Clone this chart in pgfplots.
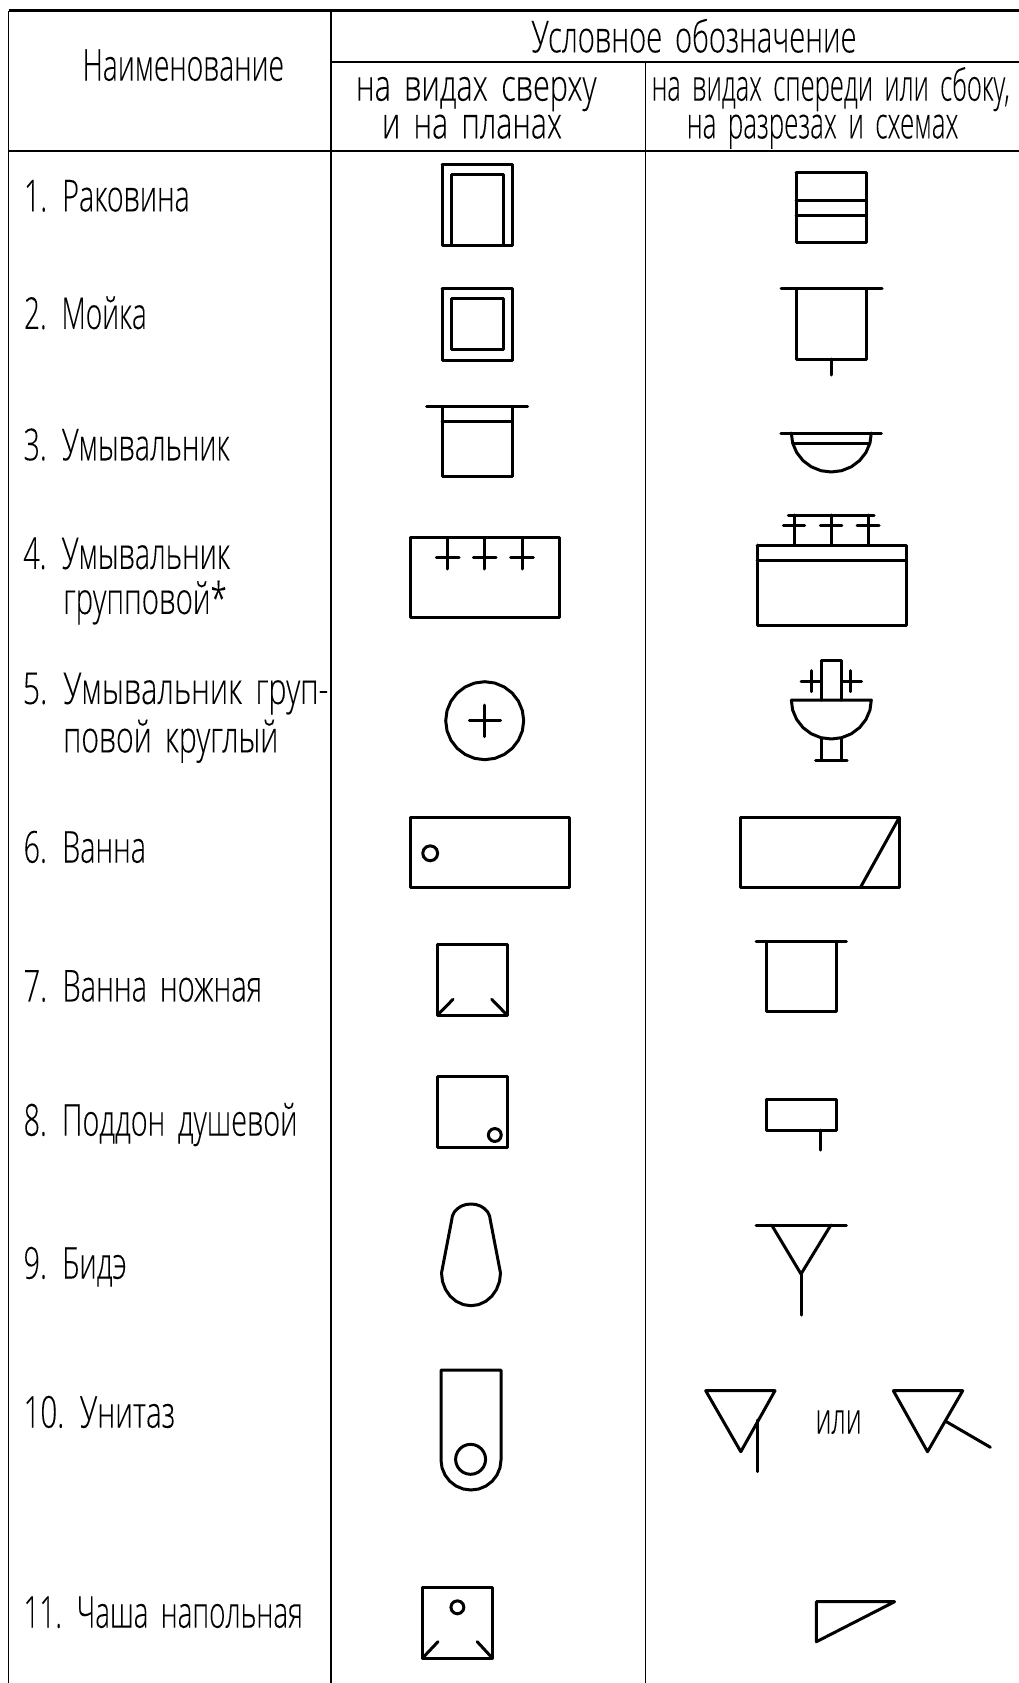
\documentclass[border=0pt]{standalone}
\usepackage{pgfplots}
\usepackage{graphicx}
\usepackage{fontspec}
\setmainfont[WordSpace=1.7,FakeBold=0.12]{Open Sans Light}
\pgfplotsset{compat=1.18}
\newdimen\px \px=0.75pt
\newcommand\T[4]{\node[anchor=base west,inner sep=0pt,outer sep=0pt,yshift=-0.5pt,font=\fontsize{33pt}{38pt}\selectfont] at (axis cs:#1,#2) {\resizebox{#3\px}{\height}{#4}};}
\newcommand\R[4]{\addplot[sym] coordinates {(#1,#2)(#3,#2)(#3,#4)(#1,#4)(#1,#2)};}
\newcommand\Ln[4]{\addplot[sym] coordinates {(#1,#2)(#3,#4)};}
\begin{document}
\begin{tikzpicture}
\path[use as bounding box] (0,0) rectangle (764.25pt,1262.25pt);
\begin{axis}[
  at={(0,0)}, anchor=south west,
  scale only axis, width=764.25pt, height=1262.25pt,
  xmin=0, xmax=1019, ymin=0, ymax=1683, y dir=reverse,
  hide axis,
  sym/.style={black,line width=2.25pt,line cap=round,line join=round,no markers,forget plot},
  tab/.style={black,line width=1.2pt,no markers,forget plot},
  tabk/.style={black,line width=2.2pt,no markers,forget plot},
]
% table rules
\addplot[tabk] coordinates {(8.5,10.7)(1019,10.7)};
\addplot[tab] coordinates {(8.5,10.7)(8.5,1683)};
\addplot[tab] coordinates {(331,10.7)(331,1683)};
\addplot[tab] coordinates {(645.5,62)(645.5,1683)};
\addplot[tab] coordinates {(331,62)(1019,62)};
\addplot[tabk] coordinates {(8.5,151)(1019,151)};
% header text
\T{531.5}{51.7}{325}{Условное обозначение}
\T{82.5}{80}{201.5}{Наименование}
\T{356}{100}{240.5}{на видах сверху}
\T{382}{137.7}{180}{и на планах}
\T{651.7}{100}{358}{на видах спереди или сбоку,}
\T{686.8}{137.7}{271.6}{на разрезах и схемах}
% names
\T{24}{210.7}{165.7}{1. Раковина}
\T{24}{328.3}{122.8}{2. Мойка}
\T{23.6}{459.6}{206}{3. Умывальник}
\T{23.3}{568.3}{206.7}{4. Умывальник}
\T{63.3}{613.3}{163.4}{групповой*}
\T{22.7}{703.3}{305.6}{5. Умывальник груп-}
\T{63.3}{751.7}{215}{повой круглый}
\T{23.6}{862}{122.4}{6. Ванна}
\T{23.6}{1000.8}{238.4}{7. Ванна ножная}
\T{23.6}{1135}{273.8}{8. Поддон душевой}
\T{23.6}{1278}{103.1}{9. Бидэ}
\T{23.6}{1427}{151.4}{10. Унитаз}
\T{23.6}{1627}{279.2}{11. Чаша напольная}
\T{815.5}{1433}{46.1}{или}
% 1
\R{442}{165}{512}{246}
\R{451.5}{175}{503.5}{246}
\R{796}{172.7}{866}{243}
\Ln{796}{200.7}{866}{200.7}
\Ln{796}{216}{866}{216}
% 2
\R{442}{289}{512}{360}
\R{451.5}{299}{503.5}{349}
\Ln{781}{289}{882}{289}
\R{796}{289}{866}{359}
\Ln{831}{359}{831}{375}
% 3
\Ln{426.7}{406.7}{527.7}{406.7}
\R{442}{406.7}{512}{476.7}
\Ln{442}{421.7}{512}{421.7}
\Ln{780.8}{433}{881.4}{433}
\Ln{794}{443}{869}{443}
\addplot[sym] coordinates {(871.3,433)(869.94,443.1)(865.94,452.5)(859.58,460.6)(851.3,466.8)(841.66,470.7)(831.3,472)(820.94,470.7)(811.3,466.8)(803.02,460.6)(796.66,452.5)(792.66,443.1)(791.3,433)};
% 4
\R{410.4}{537.3}{559.8}{617.7}
\Ln{447.7}{537.3}{447.7}{569}
\Ln{484.7}{537.3}{484.7}{569}
\Ln{522}{537.3}{522}{569}
\Ln{436.3}{557.7}{459.1}{557.7}
\Ln{473.3}{557.7}{496.1}{557.7}
\Ln{510.6}{557.7}{533.4}{557.7}
\R{757}{545}{906.4}{625.7}
\Ln{757}{560.3}{906.4}{560.3}
\Ln{788.3}{515}{874}{515}
\Ln{794}{515}{794}{545}
\Ln{831}{515}{831}{545}
\Ln{868}{515}{868}{545}
\Ln{783.4}{525.7}{804.5}{525.7}
\Ln{820.3}{525.7}{841.9}{525.7}
\Ln{857.2}{525.7}{879.2}{525.7}
% 5
\addplot[sym] coordinates {(523.7,720.7)(522.37,730.79)(518.47,740.2)(512.28,748.28)(504.2,754.47)(494.79,758.37)(484.7,759.7)(474.61,758.37)(465.2,754.47)(457.12,748.28)(450.93,740.2)(447.03,730.79)(445.7,720.7)(447.03,710.61)(450.93,701.2)(457.12,693.12)(465.2,686.93)(474.61,683.03)(484.7,681.7)(494.79,683.03)(504.2,686.93)(512.28,693.12)(518.47,701.2)(522.37,710.61)(523.7,720.7)};
\Ln{469.3}{720.7}{500.5}{720.7}
\Ln{484.7}{705}{484.7}{736.7}
\addplot[sym] coordinates {(821.2,700)(821.2,660.7)(841.9,660.7)(841.9,700)};
\addplot[sym] coordinates {(791.3,700)(871.3,700)(869.94,710.1)(865.94,719.5)(859.58,727.6)(851.3,733.8)(841.66,737.7)(831.3,739)(820.94,737.7)(811.3,733.8)(803.02,727.6)(796.66,719.5)(792.66,710.1)(791.3,700)};
\Ln{821.2}{738}{821.2}{760.7}
\Ln{841.9}{738}{841.9}{760.7}
\Ln{815.5}{760.7}{847.1}{760.7}
\Ln{811}{670.7}{811}{691.7}
\Ln{801}{681}{821.2}{681}
\Ln{850.7}{670.7}{850.7}{691.7}
\Ln{841.9}{681}{861.6}{681}
% 6
\R{410.4}{817.3}{569.5}{887.7}
\addplot[sym] coordinates {(437.7,853.3)(436.7,857.05)(433.95,859.8)(430.2,860.8)(426.45,859.8)(423.7,857.05)(422.7,853.3)(423.7,849.55)(426.45,846.8)(430.2,845.8)(433.95,846.8)(436.7,849.55)(437.7,853.3)};
\R{740.8}{817.3}{899.4}{887.7}
\Ln{899.4}{817.3}{860.3}{887.7}
% 7
\R{437.6}{944.3}{507}{1015}
\Ln{437.6}{1015}{453}{999.3}
\Ln{507}{1015}{491.7}{999.3}
\Ln{756.2}{941.7}{846.3}{941.7}
\R{766.3}{941.7}{836.2}{1011}
% 8
\R{437.6}{1076.7}{507}{1147.7}
\addplot[sym] coordinates {(501.3,1135)(500.43,1138.25)(498.05,1140.63)(494.8,1141.5)(491.55,1140.63)(489.17,1138.25)(488.3,1135)(489.17,1131.75)(491.55,1129.37)(494.8,1128.5)(498.05,1129.37)(500.43,1131.75)(501.3,1135)};
\R{766.3}{1099.3}{836.2}{1130}
\Ln{820.8}{1130}{820.8}{1150}
% 9
\addplot[sym] coordinates {(451.7,1220)(452.4,1215.9)(454.3,1212)(457.4,1208.7)(461.4,1206.1)(466,1204.5)(471,1204)(476,1204.5)(480.6,1206.1)(484.6,1208.7)(487.7,1212)(489.6,1215.9)(490.3,1220)(500.5,1273)(499.5,1281.5)(496.5,1289.4)(491.9,1296.1)(485.8,1301.3)(478.6,1304.6)(471,1305.7)(463.4,1304.6)(456.2,1301.3)(450.1,1296.1)(445.5,1289.4)(442.5,1281.5)(441.5,1273)(451.7,1220)};
\Ln{756.2}{1225}{846.3}{1225}
\addplot[sym] coordinates {(771.6,1225)(801,1274)(830.9,1225)};
\Ln{801}{1274}{801}{1315}
% 10
\addplot[sym] coordinates {(441,1370)(501,1370)(501,1460)(499.98,1467.76)(496.98,1475)(492.21,1481.21)(486,1485.98)(478.76,1488.98)(471,1490)(463.24,1488.98)(456,1485.98)(449.79,1481.21)(445.02,1475)(442.02,1467.76)(441,1460)(441,1370)};
\addplot[sym] coordinates {(485.6,1459.3)(485.09,1463.18)(483.59,1466.8)(481.21,1469.91)(478.1,1472.29)(474.48,1473.79)(470.6,1474.3)(466.72,1473.79)(463.1,1472.29)(459.99,1469.91)(457.61,1466.8)(456.11,1463.18)(455.6,1459.3)(456.11,1455.42)(457.61,1451.8)(459.99,1448.69)(463.1,1446.31)(466.72,1444.81)(470.6,1444.3)(474.48,1444.81)(478.1,1446.31)(481.21,1448.69)(483.59,1451.8)(485.09,1455.42)(485.6,1459.3)};
\addplot[sym] coordinates {(705.7,1390.7)(775,1390.7)(740.8,1451.7)(705.7,1390.7)};
\Ln{757.5}{1420}{757.5}{1471.7}
\addplot[sym] coordinates {(893.3,1390.7)(962.7,1390.7)(927.5,1451.7)(893.3,1390.7)};
\Ln{946.4}{1421.7}{990.4}{1447.3}
% 11
\R{422.3}{1587.3}{492.6}{1658.3}
\addplot[sym] coordinates {(463.9,1607.3)(463.03,1610.55)(460.65,1612.93)(457.4,1613.8)(454.15,1612.93)(451.77,1610.55)(450.9,1607.3)(451.77,1604.05)(454.15,1601.67)(457.4,1600.8)(460.65,1601.67)(463.03,1604.05)(463.9,1607.3)};
\Ln{422.3}{1658.3}{438}{1641.7}
\Ln{492.6}{1658.3}{477.2}{1641.7}
\addplot[sym] coordinates {(816.4,1601.7)(894.6,1601.7)(816.4,1641.7)(816.4,1601.7)};
\end{axis}
\end{tikzpicture}
\end{document}
